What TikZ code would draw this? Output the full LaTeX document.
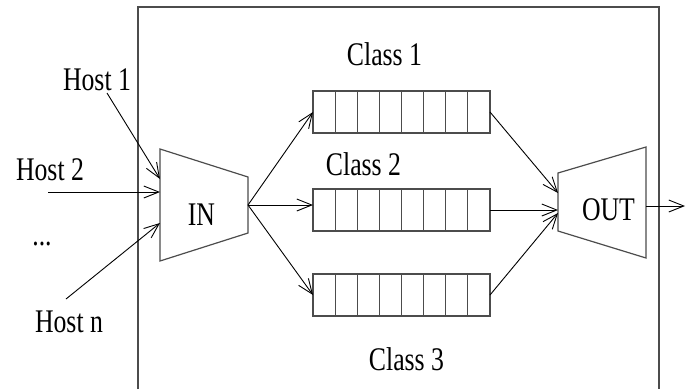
\documentclass[tikz,border=0pt]{standalone}
\usepackage{fontspec}
\setmainfont[FakeStretch=0.78]{Liberation Serif}
\usetikzlibrary{positioning}
\usetikzlibrary{calc}
\usetikzlibrary{arrows.meta}

\begin{document}
\begin{tikzpicture}[x=1pt, y=-1pt,
  txt/.style={font=\fontsize{33}{40}\selectfont, inner sep=0pt, anchor=base},
  wire/.style={draw=black!70, line width=1.2pt},
  queue/.style={wire, minimum width=177pt, minimum height=42pt, inner sep=0pt, outer sep=0pt},
  gate/.style={minimum width=88pt, minimum height=112pt, inner sep=0pt, outer sep=0pt},
  flow/.style={-{Straight Barb[length=15pt,width=12pt]}, line width=0.9pt}]
  \useasboundingbox (0,0) rectangle (692,389);

  % router frame, open at the bottom
  \draw[wire] (138,389) -- (138,7) -- (659,7) -- (659,389);

  \node[gate] (in) at (204,205) {};
  \node[gate, minimum height=111pt] (out) at (602,202.5) {};
  \node[txt] (inlbl) at ([xshift=-2.5pt,yshift=-20pt]in.center) {IN};
  \node[txt] (outlbl) at ([xshift=6.5pt,yshift=-17.5pt]out.center) {OUT};

  \draw[wire] (in.north west) -- ([yshift=-28pt]in.north east) -- ([yshift=28pt]in.south east) -- (in.south west) -- cycle;
  \draw[wire] (out.north east) -- (out.south east) -- ([yshift=27pt]out.south west) -- ([yshift=-26pt]out.north west) -- cycle;

  % class queues
  \node[queue] (q1) at (401.5,112) {};
  \node[queue, below=56pt of q1] (q2) {};
  \node[queue, below=43pt of q2] (q3) {};
  \foreach \q in {q1,q2,q3}
    \foreach \i in {1,...,7}
      \draw[wire] ($(\q.north west)!\i/8!(\q.north east)$) -- ($(\q.south west)!\i/8!(\q.south east)$);

  \node[txt] (class1) at ([xshift=-17pt,yshift=26pt]q1.north) {Class 1};
  \node[txt] (class2) at ([xshift=-38pt,yshift=14pt]q2.north) {Class 2};
  \node[txt] (class3) at ([xshift=5pt,yshift=-54pt]q3.south) {Class 3};

  % hosts
  \node[txt] (host1) at (97,90) {Host 1};
  \node[txt] (host2) at (50,180) {Host 2};
  \node[txt] (dots) at (42,245) {...};
  \node[txt] (hostn) at (69,332) {Host n};

  \draw[flow] ([xshift=10pt,yshift=-3pt]host1.base) -- ([yshift=26pt]in.west);
  \draw[flow] ([xshift=-2pt,yshift=-12pt]host2.base) -- ([yshift=13pt]in.west);
  \draw[flow] ([xshift=-3pt,yshift=33pt]hostn.base) -- ([yshift=-18pt]in.west);

  \draw[flow] (in.east) -- (q1.west);
  \draw[flow] (in.east) -- (in.east -| q2.west);
  \draw[flow] (in.east) -- (q3.west);

  \draw[flow] (q1.east) -- ([yshift=9.5pt]out.west);
  \draw[flow] (q2.east) -- (q2.east -| out.west);
  \draw[flow] (q3.east) -- ([yshift=-10.5pt]out.west);

  \coordinate (sink) at (685,206);
  \draw[flow] (out.east |- sink) -- (sink);
\end{tikzpicture}
\end{document}
